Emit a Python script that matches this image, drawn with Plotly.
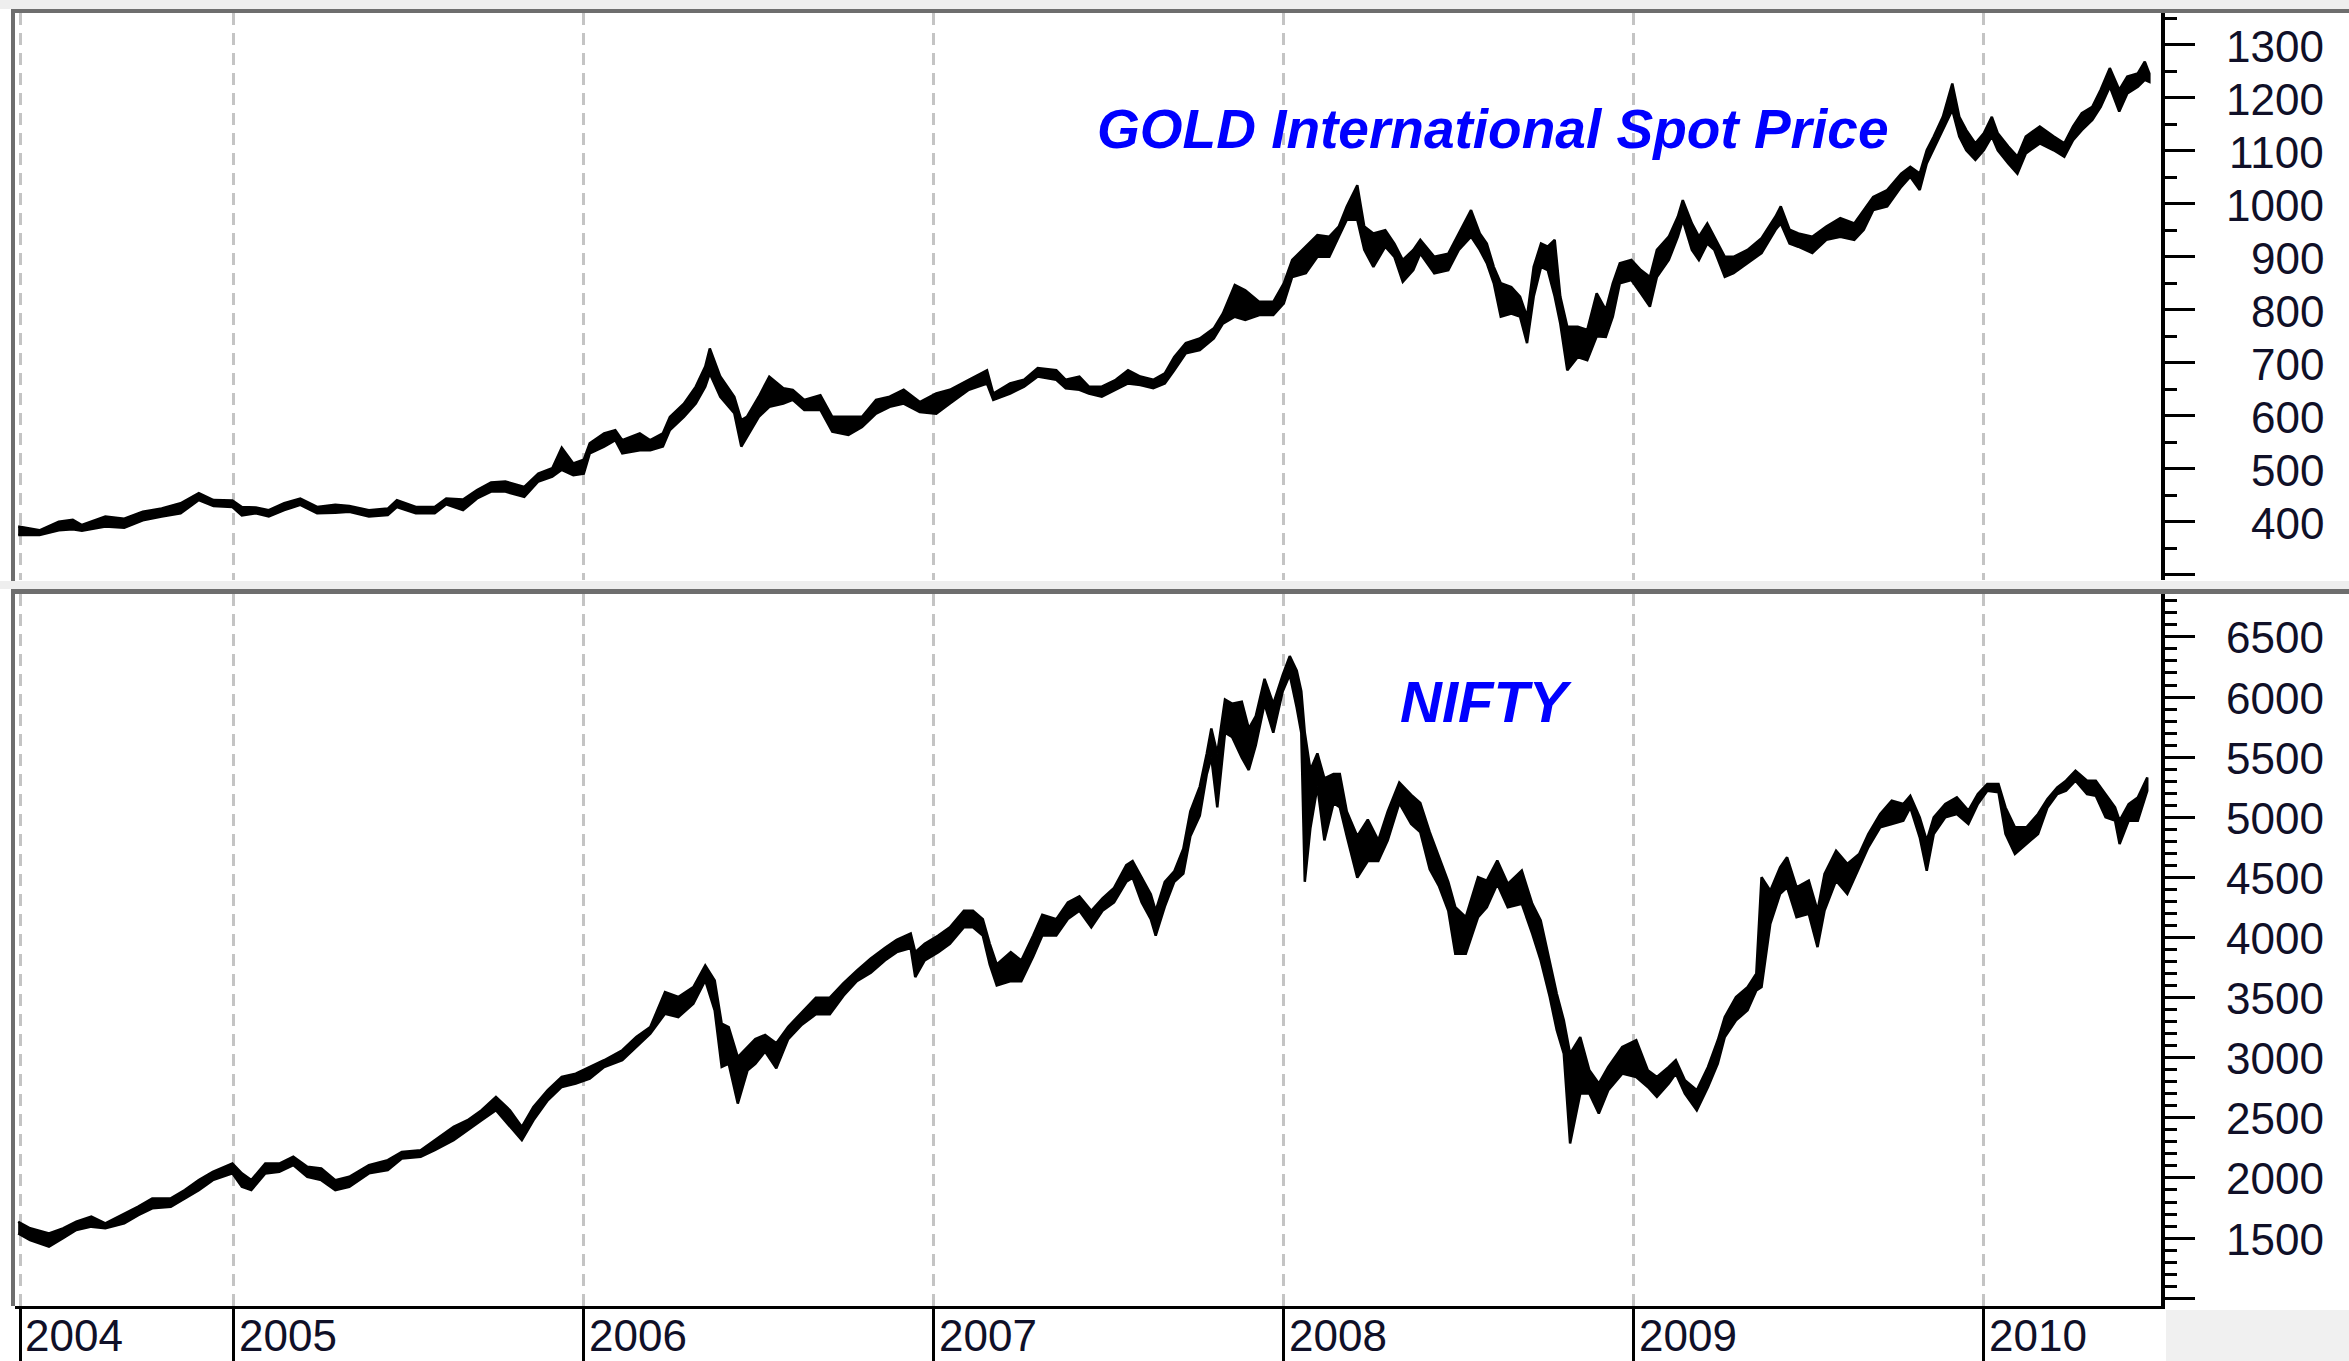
import plotly.graph_objects as go

# ---------------- data (decimal year, high, low) ----------------
gold_t = [2004.384, 2004.445, 2004.50, 2004.54, 2004.566, 2004.633, 2004.687, 2004.74, 2004.794, 2004.848,
          2004.90, 2004.942, 2004.996, 2005.023, 2005.063, 2005.10, 2005.144, 2005.19, 2005.238, 2005.29,
          2005.33, 2005.386, 2005.44, 2005.466, 2005.52, 2005.574, 2005.607, 2005.655, 2005.695, 2005.735,
          2005.776, 2005.83, 2005.87, 2005.91, 2005.937, 2005.97, 2006.0, 2006.017, 2006.058, 2006.09,
          2006.11, 2006.16, 2006.19, 2006.226, 2006.246, 2006.286, 2006.32, 2006.347, 2006.36, 2006.39,
          2006.43, 2006.45, 2006.466, 2006.50, 2006.53, 2006.57, 2006.597, 2006.63, 2006.676, 2006.71,
          2006.756, 2006.795, 2006.835, 2006.874, 2006.914, 2006.96, 2007.007, 2007.046, 2007.10, 2007.152,
          2007.17, 2007.218, 2007.258, 2007.297, 2007.35, 2007.377, 2007.416, 2007.443, 2007.48, 2007.52,
          2007.555, 2007.59, 2007.627, 2007.66, 2007.687, 2007.72, 2007.76, 2007.80, 2007.826, 2007.86,
          2007.89, 2007.93, 2007.97, 2008.0, 2008.024, 2008.063, 2008.096, 2008.13, 2008.157, 2008.18,
          2008.21, 2008.23, 2008.256, 2008.29, 2008.316, 2008.34, 2008.37, 2008.39, 2008.43, 2008.47,
          2008.50, 2008.535, 2008.56, 2008.58, 2008.60, 2008.62, 2008.65, 2008.675, 2008.695, 2008.714,
          2008.735, 2008.754, 2008.774, 2008.79, 2008.81, 2008.84, 2008.867, 2008.894, 2008.92, 2008.94,
          2008.96, 2008.993, 2009.02, 2009.046, 2009.066, 2009.10, 2009.126, 2009.14, 2009.166, 2009.186,
          2009.21, 2009.23, 2009.26, 2009.285, 2009.325, 2009.365, 2009.405, 2009.42, 2009.445, 2009.47,
          2009.51, 2009.55, 2009.59, 2009.63, 2009.657, 2009.684, 2009.724, 2009.764, 2009.79, 2009.817,
          2009.837, 2009.857, 2009.883, 2009.91, 2009.93, 2009.95, 2009.976, 2010.0, 2010.023, 2010.04,
          2010.07, 2010.096, 2010.12, 2010.16, 2010.2, 2010.23, 2010.255, 2010.28, 2010.31, 2010.334,
          2010.36, 2010.387, 2010.41, 2010.44, 2010.46, 2010.473]
gold_hi = [391, 384, 400, 404, 394, 410, 406, 419, 425, 435,
           454, 441, 440, 428, 427, 422, 435, 444, 428, 432,
           430, 422, 425, 441, 428, 428, 444, 442, 460, 474,
           476, 466, 491, 501, 540, 510, 517, 548, 567, 573,
           554, 567, 554, 567, 598, 623, 655, 693, 727, 674,
           636, 592, 598, 636, 674, 652, 649, 630, 639, 598,
           598, 598, 630, 636, 649, 626, 642, 649, 668, 686,
           642, 661, 668, 690, 686, 668, 674, 655, 655, 668,
           686, 674, 668, 680, 711, 737, 746, 765, 793, 847,
           837, 815, 815, 850, 894, 919, 941, 938, 957, 995,
           1035, 957, 944, 950, 925, 894, 913, 932, 900, 906,
           944, 988, 944, 925, 881, 850, 843, 825, 787, 881,
           925, 919, 932, 825, 768, 768, 762, 831, 800, 850,
           888, 894, 875, 862, 913, 938, 976, 1007, 963, 938,
           963, 938, 900, 900, 913, 935, 976, 995, 951, 944,
           938, 957, 973, 963, 988, 1013, 1026, 1057, 1070, 1057,
           1101, 1127, 1164, 1227, 1164, 1139, 1114, 1133, 1164, 1133,
           1108, 1089, 1127, 1146, 1127, 1114, 1146, 1171, 1183, 1215,
           1256, 1215, 1240, 1246, 1268, 1246]
gold_lo = [375, 375, 384, 386, 383, 391, 389, 403, 410, 416,
           441, 430, 428, 412, 416, 410, 422, 432, 416, 417,
           419, 410, 413, 428, 416, 416, 433, 422, 444, 457,
           457, 447, 476, 485, 498, 488, 491, 529, 542, 554,
           529, 535, 535, 542, 573, 598, 623, 655, 680, 636,
           605, 542, 561, 598, 617, 623, 630, 611, 611, 570,
           564, 579, 604, 617, 623, 607, 604, 623, 649, 661,
           630, 642, 655, 674, 668, 652, 649, 642, 636, 649,
           661, 658, 652, 661, 686, 718, 724, 746, 774, 787,
           781, 790, 790, 812, 862, 869, 900, 900, 938, 970,
           970, 913, 881, 919, 900, 853, 875, 906, 869, 875,
           913, 938, 913, 888, 850, 787, 793, 787, 737, 825,
           881, 875, 825, 774, 686, 711, 705, 750, 749, 787,
           850, 856, 831, 806, 862, 894, 938, 969, 913, 894,
           925, 913, 862, 869, 888, 907, 951, 963, 925, 919,
           907, 932, 938, 932, 951, 988, 995, 1032, 1051, 1026,
           1076, 1101, 1139, 1177, 1127, 1101, 1083, 1101, 1127, 1101,
           1076, 1057, 1095, 1114, 1101, 1089, 1120, 1139, 1158, 1183,
           1221, 1174, 1208, 1221, 1234, 1230]

nifty_t = [2004.384, 2004.418, 2004.472, 2004.512, 2004.55, 2004.593, 2004.633, 2004.687, 2004.727, 2004.767,
           2004.82, 2004.86, 2004.90, 2004.94, 2004.996, 2005.023, 2005.05, 2005.09, 2005.13, 2005.17,
           2005.21, 2005.25, 2005.29, 2005.33, 2005.386, 2005.44, 2005.48, 2005.534, 2005.574, 2005.628,
           2005.668, 2005.708, 2005.749, 2005.789, 2005.823, 2005.856, 2005.897, 2005.937, 2005.977, 2006.017,
           2006.058, 2006.11, 2006.15, 2006.19, 2006.232, 2006.27, 2006.313, 2006.347, 2006.374, 2006.394,
           2006.414, 2006.44, 2006.468, 2006.49, 2006.518, 2006.55, 2006.584, 2006.623, 2006.663, 2006.703,
           2006.742, 2006.78, 2006.82, 2006.86, 2006.894, 2006.934, 2006.947, 2006.974, 2007.013, 2007.046,
           2007.086, 2007.112, 2007.14, 2007.16, 2007.18, 2007.22, 2007.25, 2007.284, 2007.31, 2007.35,
           2007.383, 2007.416, 2007.45, 2007.482, 2007.515, 2007.55, 2007.568, 2007.594, 2007.62, 2007.634,
           2007.66, 2007.687, 2007.713, 2007.733, 2007.76, 2007.78, 2007.793, 2007.81, 2007.832, 2007.852,
           2007.88, 2007.90, 2007.92, 2007.945, 2007.97, 2007.997, 2008.017, 2008.037, 2008.05, 2008.06,
           2008.076, 2008.096, 2008.116, 2008.142, 2008.16, 2008.18, 2008.21, 2008.24, 2008.27, 2008.297,
           2008.33, 2008.364, 2008.39, 2008.417, 2008.443, 2008.47, 2008.49, 2008.52, 2008.555, 2008.58,
           2008.61, 2008.64, 2008.68, 2008.71, 2008.734, 2008.76, 2008.78, 2008.80, 2008.818, 2008.847,
           2008.873, 2008.90, 2008.927, 2008.967, 2009.007, 2009.04, 2009.066, 2009.10, 2009.12, 2009.146,
           2009.18, 2009.212, 2009.24, 2009.26, 2009.292, 2009.325, 2009.35, 2009.365, 2009.39, 2009.418,
           2009.438, 2009.465, 2009.50, 2009.525, 2009.545, 2009.578, 2009.61, 2009.644, 2009.67, 2009.704,
           2009.737, 2009.77, 2009.79, 2009.817, 2009.837, 2009.857, 2009.89, 2009.923, 2009.956, 2009.983,
           2010.01, 2010.042, 2010.062, 2010.089, 2010.122, 2010.155, 2010.182, 2010.21, 2010.235, 2010.262,
           2010.295, 2010.32, 2010.348, 2010.375, 2010.388, 2010.414, 2010.44, 2010.467]
nifty_hi = [1636, 1581, 1539, 1581, 1636, 1678, 1622, 1705, 1761, 1830,
            1830, 1899, 1982, 2051, 2120, 2038, 1982, 2120, 2120, 2176,
            2093, 2079, 1982, 2010, 2107, 2148, 2217, 2231, 2314, 2425,
            2480, 2563, 2674, 2563, 2425, 2591, 2730, 2840, 2868, 2923,
            2979, 3062, 3172, 3255, 3546, 3505, 3587, 3767, 3643, 3283,
            3255, 3006, 3089, 3155, 3189, 3120, 3258, 3378, 3499, 3499,
            3620, 3723, 3826, 3912, 3981, 4033, 3878, 3947, 4016, 4085,
            4222, 4222, 4153, 3947, 3775, 3878, 3809, 4016, 4188, 4153,
            4291, 4343, 4222, 4326, 4412, 4601, 4636, 4498, 4360, 4222,
            4463, 4550, 4739, 5049, 5255, 5531, 5738, 5531, 5979, 5945,
            5961, 5738, 5841, 6151, 5944, 6185, 6340, 6220, 6048, 5703,
            5393, 5531, 5324, 5359, 5359, 5049, 4842, 4980, 4808, 5049,
            5290, 5186, 5118, 4876, 4670, 4463, 4252, 4169, 4501, 4473,
            4640, 4446, 4556, 4280, 4141, 3809, 3532, 3311, 3034, 3172,
            2896, 2785, 2923, 3089, 3145, 2896, 2840, 2923, 2979, 2812,
            2729, 2923, 3145, 3338, 3504, 3587, 3698, 4501, 4390, 4584,
            4667, 4418, 4473, 4224, 4529, 4722, 4612, 4695, 4861, 5027,
            5138, 5110, 5179, 4999, 4805, 5000, 5110, 5165, 5055, 5193,
            5276, 5276, 5082, 4916, 4916, 5027, 5152, 5248, 5304, 5387,
            5304, 5304, 5193, 5082, 4972, 5110, 5165, 5331]
nifty_lo = [1539, 1484, 1428, 1498, 1567, 1595, 1581, 1622, 1691, 1747,
            1761, 1830, 1899, 1982, 2038, 1927, 1899, 2038, 2051, 2107,
            2010, 1982, 1899, 1927, 2038, 2065, 2162, 2176, 2231, 2314,
            2397, 2480, 2563, 2425, 2314, 2480, 2646, 2757, 2785, 2826,
            2923, 2979, 3089, 3200, 3366, 3338, 3449, 3643, 3394, 2923,
            2951, 2619, 2896, 2948, 3051, 2913, 3155, 3275, 3361, 3361,
            3516, 3637, 3706, 3809, 3878, 3912, 3671, 3809, 3878, 3947,
            4085, 4085, 4016, 3775, 3602, 3637, 3637, 3843, 4016, 4016,
            4153, 4222, 4085, 4222, 4291, 4463, 4498, 4291, 4153, 4016,
            4257, 4463, 4532, 4842, 5014, 5359, 5497, 5083, 5703, 5669,
            5496, 5393, 5600, 5944, 5703, 6048, 6185, 5910, 5703, 4463,
            4911, 5255, 4808, 5118, 5083, 4842, 4498, 4636, 4636, 4808,
            5118, 4945, 4876, 4567, 4429, 4222, 3864, 3864, 4169, 4252,
            4446, 4252, 4280, 4031, 3809, 3505, 3228, 3034, 2287, 2702,
            2702, 2536, 2730, 2868, 2840, 2757, 2674, 2785, 2868, 2702,
            2563, 2757, 2951, 3172, 3311, 3394, 3560, 3588, 4114, 4363,
            4418, 4169, 4197, 3920, 4224, 4473, 4363, 4584, 4750, 4916,
            4944, 4972, 5082, 4833, 4556, 4860, 4999, 5027, 4944, 5110,
            5221, 5207, 4861, 4695, 4778, 4861, 5082, 5193, 5221, 5304,
            5193, 5179, 5000, 4972, 4778, 4972, 4972, 5221]

year_ticks = [2004.390, 2005, 2006, 2007, 2008, 2009, 2010]
year_labels = ["2004", "2005", "2006", "2007", "2008", "2009", "2010"]
gold_labels = [400, 500, 600, 700, 800, 900, 1000, 1100, 1200, 1300]
nifty_labels = [1500, 2000, 2500, 3000, 3500, 4000, 4500, 5000, 5500, 6000, 6500]

# ---------------- layout helpers ----------------
W, H = 2349, 1361
def px(v):
    return v / W
def py(v):
    return 1 - v / H

FONT = "Liberation Sans, Arial, sans-serif"
LBL = "#101028"

fig = go.Figure()

fig.add_trace(go.Scatter(
    x=gold_t + gold_t[::-1], y=gold_hi + gold_lo[::-1],
    mode="lines", fill="toself", fillcolor="black",
    line=dict(color="black", width=2.5), xaxis="x", yaxis="y",
    hoverinfo="skip", showlegend=False))
fig.add_trace(go.Scatter(
    x=nifty_t + nifty_t[::-1], y=nifty_hi + nifty_lo[::-1],
    mode="lines", fill="toself", fillcolor="black",
    line=dict(color="black", width=2.5), xaxis="x2", yaxis="y2",
    hoverinfo="skip", showlegend=False))

xdom = [px(15), px(2161)]
xrng = [2004.3749, 2010.5063]
grid = dict(showgrid=True, gridcolor="#c4c4c4", gridwidth=3, griddash="12px,8px")

fig.update_layout(
    width=W, height=H, margin=dict(l=0, r=0, t=0, b=0),
    paper_bgcolor="white", plot_bgcolor="white", showlegend=False,
    xaxis=dict(domain=xdom, range=xrng, anchor="y", tickvals=year_ticks,
               showticklabels=False, ticks="", zeroline=False, showline=False, **grid),
    xaxis2=dict(domain=xdom, range=xrng, anchor="y2", tickvals=year_ticks,
                showticklabels=False, ticks="outside", ticklen=55, tickwidth=3,
                tickcolor="black", zeroline=False, showline=True, linecolor="black",
                linewidth=3, **grid),
    yaxis=dict(domain=[py(580), py(13)], range=[290.2, 1360], side="right", anchor="x",
               showline=True, linecolor="black", linewidth=4, ticks="outside",
               ticklen=30, tickwidth=3, tickcolor="black", tick0=0, dtick=100,
               minor=dict(dtick=50, ticks="outside", ticklen=12, tickwidth=3, tickcolor="black"),
               showgrid=False, zeroline=False, showticklabels=False),
    yaxis2=dict(domain=[py(1306), py(594)], range=[935, 6857], side="right", anchor="x2",
                showline=True, linecolor="black", linewidth=4, ticks="outside",
                ticklen=30, tickwidth=3, tickcolor="black", tick0=0, dtick=500,
                minor=dict(dtick=100, ticks="outside", ticklen=12, tickwidth=3, tickcolor="black"),
                showgrid=False, zeroline=False, showticklabels=False),
)

shapes = []
def rect(x0, y0, x1, y1, color):
    shapes.append(dict(type="rect", xref="paper", yref="paper", x0=px(x0), x1=px(x1),
                       y0=py(y1), y1=py(y0), fillcolor=color, line=dict(width=0), layer="above"))
rect(0, 0, W, 9, "#eeeeee")
rect(11, 9, W, 13, "#6e6e6e")
rect(0, 581, W, 589, "#eeeeee")
rect(11, 589, W, 594, "#6e6e6e")
rect(11, 9, 15, 581, "#6e6e6e")
rect(11, 589, 15, 1306, "#6e6e6e")
rect(2166, 1310, W, H, "#f0f0f0")
fig.update_layout(shapes=shapes)

ann = []
for v in gold_labels:
    ann.append(dict(x=px(2326), xref="paper", xanchor="right", y=v, yref="y", yanchor="middle",
                    yshift=-2, text=str(v), showarrow=False, font=dict(family=FONT, size=44, color=LBL)))
for v in nifty_labels:
    ann.append(dict(x=px(2326), xref="paper", xanchor="right", y=v, yref="y2", yanchor="middle",
                    yshift=-1, text=str(v), showarrow=False, font=dict(family=FONT, size=44, color=LBL)))
for t, s in zip(year_ticks, year_labels):
    ann.append(dict(x=t, xref="x2", xanchor="left", xshift=3, y=py(1335), yref="paper",
                    yanchor="middle", text=s, showarrow=False,
                    font=dict(family=FONT, size=44, color=LBL)))
ann.append(dict(x=px(1493), xref="paper", xanchor="center", y=py(129), yref="paper",
                yanchor="middle", text="GOLD International Spot Price", showarrow=False,
                font=dict(family=FONT, size=55, color="#0000ff", weight="bold", style="italic")))
ann.append(dict(x=px(1486), xref="paper", xanchor="center", y=py(701), yref="paper",
                yanchor="middle", text="NIFTY", showarrow=False,
                font=dict(family=FONT, size=58, color="#0000ff", weight="bold", style="italic")))
fig.update_layout(annotations=ann)

fig.write_html("out.html")
